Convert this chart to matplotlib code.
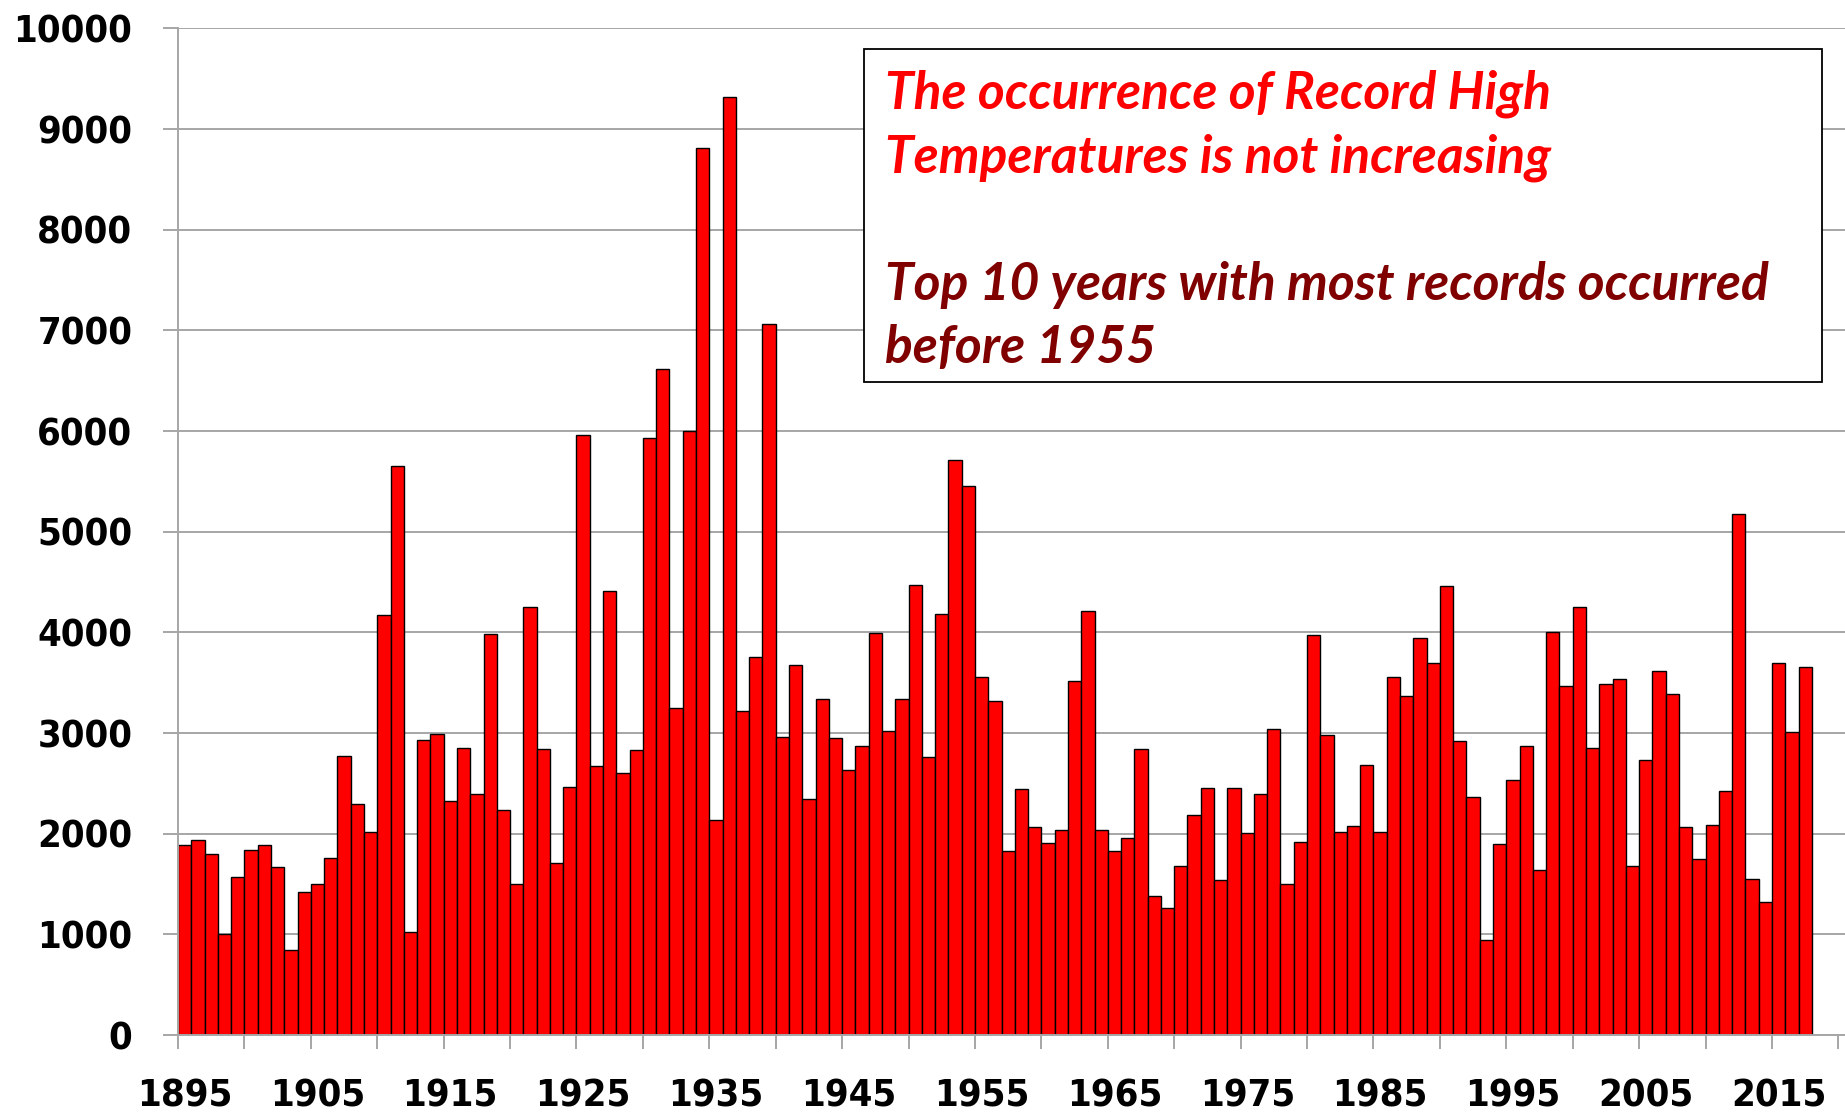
import matplotlib
matplotlib.use('Agg')
import matplotlib.pyplot as plt
from matplotlib.patches import Rectangle

# ---- data ----
years = list(range(1895, 2018))
records = [
    1890, 1935, 1795, 1000, 1570, 1835, 1885, 1670, 840, 1420,   # 1895-1904
    1505, 1760, 2775, 2295, 2015, 4170, 5655, 1025, 2935, 2995,  # 1905-1914
    2325, 2855, 2395, 3985, 2240, 1500, 4255, 2840, 1705, 2460,  # 1915-1924
    5960, 2670, 4410, 2600, 2835, 5930, 6620, 3250, 6000, 8815,  # 1925-1934
    2140, 9315, 3215, 3755, 7065, 2960, 3680, 2345, 3335, 2955,  # 1935-1944
    2630, 2870, 3995, 3020, 3335, 4475, 2765, 4185, 5715, 5450,  # 1945-1954
    3555, 3315, 1825, 2445, 2070, 1910, 2035, 3520, 4210, 2035,  # 1955-1964
    1825, 1960, 2840, 1385, 1265, 1680, 2190, 2450, 1540, 2450,  # 1965-1974
    2005, 2395, 3040, 1500, 1920, 3970, 2980, 2015, 2080, 2685,  # 1975-1984
    2015, 3560, 3370, 3945, 3695, 4465, 2925, 2365, 940, 1900,   # 1985-1994
    2535, 2875, 1635, 4000, 3465, 4255, 2855, 3490, 3540, 1680,  # 1995-2004
    2730, 3620, 3385, 2070, 1745, 2085, 2425, 5175, 1550, 1320,  # 2005-2014
    3695, 3010, 3655,                                            # 2015-2017
]
label_years = list(range(1895, 2016, 10))
y_ticks = list(range(0, 10001, 1000))
box_lines = [
    ("The occurrence of Record High", "#FF0000"),
    ("Temperatures is not increasing", "#FF0000"),
    ("Top 10 years with most records occurred", "#800000"),
    ("before 1955", "#800000"),
]

# ---- figure ----
W, H = 1845, 1115
fig = plt.figure(figsize=(W / 100, H / 100), dpi=100)
fig.patch.set_facecolor('white')
ax = fig.add_axes([178 / W, 1 - 1035 / H, (W - 178) / W, (1035 - 28.4) / H])

ax.bar(years, records, width=1.0, align='edge', color='#FF0000',
       edgecolor='#000000', linewidth=1.0, zorder=2)

ax.set_xlim(1895, 2020.5)
ax.set_ylim(0, 10000)

grid_c = '#A6A6A6'
ax.set_yticks(y_ticks)
ax.set_yticklabels([str(v) for v in y_ticks])
ax.yaxis.grid(True, color=grid_c, linewidth=1.4, zorder=0)
ax.set_axisbelow(True)
for s in ('top', 'right'):
    ax.spines[s].set_visible(False)
for s in ('left', 'bottom'):
    ax.spines[s].set_color(grid_c)
    ax.spines[s].set_linewidth(1.4)

ax.tick_params(axis='y', which='major', length=10.8, width=1.4, color=grid_c,
               pad=22, labelsize=25)
ax.set_xticks([y + 0.5 for y in label_years])
ax.set_xticklabels([str(y) for y in label_years])
ax.set_xticks(list(range(1895, 2021, 5)), minor=True)
ax.tick_params(axis='x', which='major', length=0, pad=31, labelsize=25)
ax.tick_params(axis='x', which='minor', length=10, width=1.4, color=grid_c)
labels = ax.get_xticklabels() + ax.get_yticklabels()
for lab in labels:
    lab.set_fontfamily('DejaVu Sans')
    lab.set_fontweight('bold')
    lab.set_fontstretch('condensed')
    lab.set_color('black')

# ---- annotation box ----
box = Rectangle((864 / W, 1 - 382 / H), (1822 - 864) / W, (382 - 49) / H,
                transform=fig.transFigure, facecolor='white', edgecolor='black',
                linewidth=1.3, zorder=5)
fig.add_artist(box)

baselines = [108, 172, 300, 363]
texts = []
for (line, col), b in zip(box_lines, baselines):
    t = fig.text(885 / W, 1 - b / H, line, color=col, fontsize=32,
                 family=['Lato', 'DejaVu Sans'], fontweight='bold', style='italic',
                 va='baseline', ha='left', zorder=6)
    texts.append(t)

fig.canvas.draw()
r = fig.canvas.get_renderer()
w = texts[2].get_window_extent(r).width
scale = 884 / w
for t in texts:
    t.set_fontsize(32 * scale)

# fit tick-label size so "10000" is about 119 px wide
ylab = ax.get_yticklabels()[-1]
lw_ = ylab.get_window_extent(r).width
tsize = 25 * 119 / lw_
ax.tick_params(axis='both', which='major', labelsize=tsize)

fig.savefig('out.png', dpi=100, facecolor='white')
